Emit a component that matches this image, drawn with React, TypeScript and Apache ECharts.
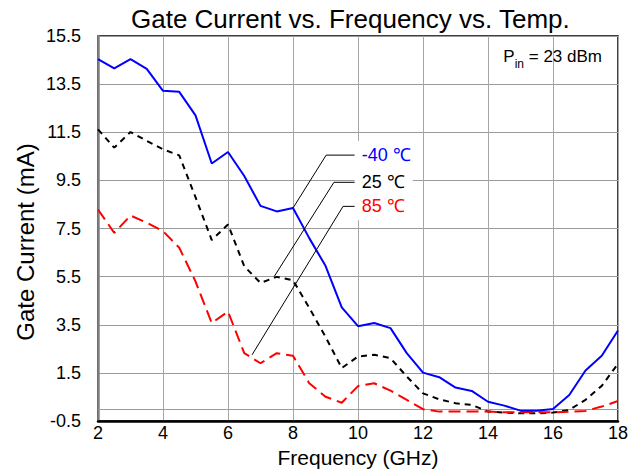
import React, { useEffect, useRef } from "react";
import * as echarts from "echarts";

const freq = [2, 2.5, 3, 3.5, 4, 4.5, 5, 5.5, 6, 6.5, 7, 7.5, 8, 8.5, 9, 9.5, 10, 10.5, 11, 11.5, 12, 12.5, 13, 13.5, 14, 14.5, 15, 15.5, 16, 16.5, 17, 17.5, 18];
const tempM40 = [14.54, 14.15, 14.54, 14.13, 13.22, 13.18, 12.2, 10.2, 10.68, 9.68, 8.44, 8.21, 8.35, 7.1, 5.95, 4.22, 3.44, 3.57, 3.36, 2.32, 1.51, 1.32, 0.89, 0.75, 0.3, 0.14, -0.07, -0.07, 0.0, 0.58, 1.6, 2.21, 3.26];
const temp25 = [11.62, 10.86, 11.51, 11.14, 10.79, 10.54, 8.8, 7.02, 7.67, 5.93, 5.24, 5.49, 5.35, 4.2, 3.0, 1.7, 2.18, 2.25, 2.11, 1.35, 0.65, 0.4, 0.24, 0.17, -0.11, -0.15, -0.18, -0.18, -0.15, -0.04, 0.38, 0.96, 1.88];
const temp85 = [8.29, 7.32, 8.04, 7.74, 7.39, 6.7, 5.3, 3.57, 4.05, 2.32, 1.9, 2.32, 2.21, 1.07, 0.51, 0.26, 0.95, 1.07, 0.76, 0.38, -0.01, -0.11, -0.11, -0.11, -0.11, -0.14, -0.14, -0.14, -0.14, -0.11, -0.08, 0.1, 0.33];
const yTickLabels = ["-0.5", "1.5", "3.5", "5.5", "7.5", "9.5", "11.5", "13.5", "15.5"];
const xTickLabels = ["2", "4", "6", "8", "10", "12", "14", "16", "18"];
const seriesNames = ["-40 ℃", "25 ℃", "85 ℃"];
const seriesColors = ["#0000FF", "#000000", "#FF0000"];
// leader lines: [start, bend, end] in data units (frequency, mA)
const leader40 = [[8, 8.35], [9.02, 10.55], [9.9, 10.55]];
const leader25 = [[7.42, 5.5], [9.26, 9.42], [9.9, 9.42]];
const leader85 = [[6.74, 2.25], [9.54, 8.42], [9.9, 8.42]];

const Y_SHIFT = 0.5; // axis runs -0.5..15.5; shifted so ticks align with interval 2
const FONT = "'Liberation Sans', Arial, Helvetica, sans-serif";

function pairs(xs: number[], ys: number[]) {
  return xs.map((x, i) => [x, ys[i] + Y_SHIFT]);
}

function leaderSeries(pts: number[][], label: string, color: string) {
  return {
    type: "line",
    data: pts.map((p) => [p[0], p[1] + Y_SHIFT]),
    symbol: "none",
    silent: true,
    z: 5,
    lineStyle: { color: "#000", width: 1 },
    endLabel: {
      show: true,
      formatter: label,
      distance: 0,
      color,
      fontSize: 18,
      fontFamily: FONT,
      backgroundColor: "#ffffff",
      padding: [5, 8, 5, 7],
    },
  };
}

export default function App() {
  const ref = useRef<HTMLDivElement>(null);
  useEffect(() => {
    if (!ref.current) return;
    const chart = echarts.init(ref.current, undefined, { renderer: "svg" });
    chart.setOption({
      animation: false,
      backgroundColor: "#ffffff",
      textStyle: { fontFamily: FONT },
      title: {
        text: "Gate Current vs. Frequency vs. Temp.",
        left: 126,
        top: 1,
        textStyle: { fontSize: 26, fontWeight: "normal", color: "#000", fontFamily: FONT },
      },
      grid: {
        left: 98,
        right: 24,
        top: 36,
        bottom: 52,
        show: true,
        borderColor: "#000",
        borderWidth: 1.5,
        backgroundColor: "transparent",
      },
      xAxis: {
        type: "value",
        min: 2,
        max: 18,
        interval: 2,
        name: "Frequency (GHz)",
        nameLocation: "middle",
        nameGap: 24,
        nameTextStyle: { fontSize: 21, color: "#000", fontFamily: FONT },
        axisLine: { show: true, lineStyle: { color: "#000", width: 2.5 } },
        axisTick: { show: false },
        axisLabel: {
          fontSize: 18,
          color: "#000",
          margin: 3,
          fontFamily: FONT,
          formatter: (v: number) => {
            const idx = Math.round((v - 2) / 2);
            return xTickLabels[idx] ?? "";
          },
        },
        splitLine: { show: true, lineStyle: { color: "#a6a6a6", width: 1 } },
      },
      yAxis: {
        type: "value",
        min: 0,
        max: 16,
        interval: 2,
        axisLine: { show: true, lineStyle: { color: "#808080", width: 2.5 } },
        axisTick: { show: false },
        axisLabel: {
          fontSize: 18,
          color: "#000",
          margin: 17,
          fontFamily: FONT,
          formatter: (v: number) => {
            const idx = Math.round(v / 2);
            return yTickLabels[idx] ?? "";
          },
        },
        splitLine: { show: true, lineStyle: { color: "#9a9a9a", width: 1 } },
      },
      graphic: [
        {
          type: "text",
          x: 25,
          y: 242,
          rotation: Math.PI / 2,
          z: 20,
          style: {
            text: "Gate Current (mA)",
            fontSize: 24,
            fontFamily: FONT,
            fill: "#000",
            align: "center",
            verticalAlign: "middle",
          },
        },
        {
          type: "text",
          right: 40,
          top: 48,
          z: 20,
          style: {
            text: "{p|P}{s|in}{p| = 23 dBm}",
            fill: "#000",
            rich: {
              p: { fontSize: 17, fill: "#000", color: "#000", fontFamily: FONT, verticalAlign: "bottom", lineHeight: 20 },
              s: { fontSize: 12, fill: "#000", color: "#000", fontFamily: FONT, verticalAlign: "bottom", lineHeight: 13, padding: [0, 0, -5, 0] },
            },
          },
        },
      ],
      series: [
        {
          name: seriesNames[0],
          type: "line",
          data: pairs(freq, tempM40),
          symbol: "none",
          z: 4,
          lineStyle: { color: seriesColors[0], width: 2 },
          markLine: {
            silent: true,
            symbol: "none",
            label: { show: false },
            lineStyle: { color: "#9a9a9a", width: 1, type: "solid" },
            data: [{ yAxis: 0 + Y_SHIFT }],
            z: 1,
          },
        },
        {
          name: seriesNames[1],
          type: "line",
          data: pairs(freq, temp25),
          symbol: "none",
          z: 3,
          lineStyle: { color: seriesColors[1], width: 2, type: [6, 5] },
        },
        {
          name: seriesNames[2],
          type: "line",
          data: pairs(freq, temp85),
          symbol: "none",
          z: 3,
          lineStyle: { color: seriesColors[2], width: 2, type: [12, 6] },
        },
        leaderSeries(leader40, seriesNames[0], seriesColors[0]),
        leaderSeries(leader25, seriesNames[1], seriesColors[1]),
        leaderSeries(leader85, seriesNames[2], seriesColors[2]),
      ],
    });
    return () => chart.dispose();
  }, []);
  return <div ref={ref} style={{ width: 642, height: 473, position: "absolute", left: 0, top: 0 }} />;
}
